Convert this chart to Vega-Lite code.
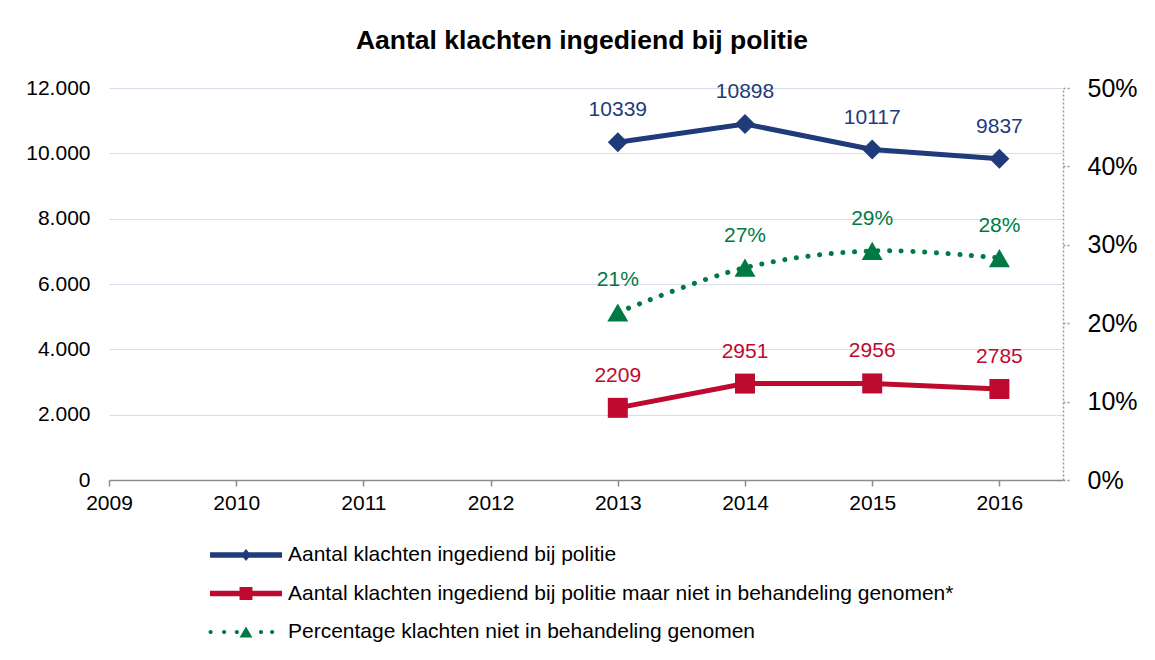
{
  "$schema": "https://vega.github.io/schema/vega-lite/v6.json",
  "width": 954,
  "height": 392,
  "autosize": "none",
  "padding": {"left": 109, "top": 88, "right": 92, "bottom": 180},
  "background": "white",
  "title": {
    "text": "Aantal klachten ingediend bij politie",
    "fontSize": 26.5,
    "fontWeight": "bold",
    "font": "Liberation Sans",
    "color": "#000000",
    "anchor": "middle",
    "frame": "group",
    "baseline": "alphabetic",
    "offset": 1,
    "dx": -4
  },
  "data": {
    "values": [
      {"series": "Aantal klachten ingediend bij politie", "measure": "aantal", "year": 2013, "value": 10339, "label": "10339"},
      {"series": "Aantal klachten ingediend bij politie", "measure": "aantal", "year": 2014, "value": 10898, "label": "10898"},
      {"series": "Aantal klachten ingediend bij politie", "measure": "aantal", "year": 2015, "value": 10117, "label": "10117"},
      {"series": "Aantal klachten ingediend bij politie", "measure": "aantal", "year": 2016, "value": 9837, "label": "9837"},
      {"series": "Aantal klachten ingediend bij politie maar niet in behandeling genomen*", "measure": "aantal", "year": 2013, "value": 2209, "label": "2209"},
      {"series": "Aantal klachten ingediend bij politie maar niet in behandeling genomen*", "measure": "aantal", "year": 2014, "value": 2951, "label": "2951"},
      {"series": "Aantal klachten ingediend bij politie maar niet in behandeling genomen*", "measure": "aantal", "year": 2015, "value": 2956, "label": "2956"},
      {"series": "Aantal klachten ingediend bij politie maar niet in behandeling genomen*", "measure": "aantal", "year": 2016, "value": 2785, "label": "2785"},
      {"series": "Percentage klachten niet in behandeling genomen", "measure": "percentage", "year": 2013, "value": 0.2137, "label": "21%"},
      {"series": "Percentage klachten niet in behandeling genomen", "measure": "percentage", "year": 2014, "value": 0.2708, "label": "27%"},
      {"series": "Percentage klachten niet in behandeling genomen", "measure": "percentage", "year": 2015, "value": 0.2922, "label": "29%"},
      {"series": "Percentage klachten niet in behandeling genomen", "measure": "percentage", "year": 2016, "value": 0.2831, "label": "28%"}
    ]
  },
  "encoding": {
    "x": {
      "field": "year",
      "type": "quantitative",
      "scale": {"domain": [2009, 2016.5], "nice": false, "zero": false},
      "axis": {
        "title": null,
        "values": [2009, 2010, 2011, 2012, 2013, 2014, 2015, 2016],
        "format": "d",
        "grid": false,
        "domainColor": "#8c8c8c",
        "domainWidth": 1.5,
        "tickColor": "#8c8c8c",
        "tickWidth": 1.5,
        "tickSize": 6,
        "labelFontSize": 21,
        "labelColor": "#000000",
        "labelPadding": 6,
        "labelFlush": false
      }
    }
  },
  "layer": [
    {
      "transform": [{"filter": "datum.measure === 'aantal'"}],
      "encoding": {
        "y": {
          "field": "value",
          "type": "quantitative",
          "scale": {"domain": [0, 12000], "nice": false},
          "axis": {
            "title": null,
            "orient": "left",
            "values": [0, 2000, 4000, 6000, 8000, 10000, 12000],
            "labelExpr": "replace(format(datum.value, ','), ',', '.')",
            "domain": false,
            "ticks": false,
            "grid": true,
            "gridColor": "#d9dce9",
            "gridWidth": 1.2,
            "labelFontSize": 21,
            "labelColor": "#000000",
            "labelPadding": 19
          }
        },
        "color": {
          "field": "series",
          "type": "nominal",
          "scale": {
            "domain": [
              "Aantal klachten ingediend bij politie",
              "Aantal klachten ingediend bij politie maar niet in behandeling genomen*",
              "Percentage klachten niet in behandeling genomen"
            ],
            "range": ["#1f3b7a", "#be0a2f", "#007a45"]
          },
          "legend": {
            "title": null,
            "orient": "none",
            "legendX": 122,
            "legendY": 452,
            "direction": "vertical",
            "symbolSize": 900,
            "symbolStrokeWidth": 0,
            "labelOffset": 27,
            "labelFontSize": 21,
            "labelColor": "#000000",
            "labelLimit": 0,
            "rowPadding": 13.5,
            "encode": {
              "symbols": {
                "update": {
                  "shape": {"signal": "datum.value === 'Aantal klachten ingediend bij politie' ? 'M-2.4,-0.18L2.4,-0.18L2.4,0.18L-2.4,0.18Z M0,-0.4L0.33,0L0,0.4L-0.33,0Z' : datum.value === 'Percentage klachten niet in behandeling genomen' ? 'M-2.5,0a0.14,0.14 0 1,0 0.28,0a0.14,0.14 0 1,0 -0.28,0Z M-1.6,0a0.14,0.14 0 1,0 0.28,0a0.14,0.14 0 1,0 -0.28,0Z M-0.75,0a0.14,0.14 0 1,0 0.28,0a0.14,0.14 0 1,0 -0.28,0Z M0,-0.37L0.43,0.37L-0.43,0.37Z M0.86,0a0.14,0.14 0 1,0 0.28,0a0.14,0.14 0 1,0 -0.28,0Z M1.6,0a0.14,0.14 0 1,0 0.28,0a0.14,0.14 0 1,0 -0.28,0Z' : 'M-2.4,-0.18L2.4,-0.18L2.4,0.18L-2.4,0.18Z M-0.43,-0.43L0.43,-0.43L0.43,0.43L-0.43,0.43Z'"},
                  "fill": {"scale": "color", "field": "value"},
                  "stroke": {"value": "transparent"},
                  "strokeWidth": {"value": 0},
                  "opacity": {"value": 1},
                  "fillOpacity": {"value": 1}
                }
              }
            }
          }
        }
      },
      "layer": [
        {"mark": {"type": "line", "strokeWidth": 5}},
        {
          "mark": {"type": "point", "filled": true, "size": 400, "opacity": 1, "strokeWidth": 0},
          "encoding": {
            "shape": {
              "field": "series",
              "type": "nominal",
              "scale": {
                "domain": [
                  "Aantal klachten ingediend bij politie",
                  "Aantal klachten ingediend bij politie maar niet in behandeling genomen*"
                ],
                "range": ["diamond", "square"]
              },
              "legend": null
            }
          }
        },
        {
          "mark": {"type": "text", "dy": -32, "fontSize": 21, "baseline": "middle", "align": "center"},
          "encoding": {"text": {"field": "label"}}
        }
      ]
    },
    {
      "transform": [{"filter": "datum.measure === 'percentage'"}],
      "encoding": {
        "y": {
          "field": "value",
          "type": "quantitative",
          "scale": {"domain": [0, 0.5], "nice": false},
          "axis": {
            "title": null,
            "orient": "right",
            "values": [0, 0.1, 0.2, 0.3, 0.4, 0.5],
            "format": ".0%",
            "grid": false,
            "domainColor": "#999999",
            "domainDash": [2, 2],
            "domainWidth": 1.5,
            "tickColor": "#999999",
            "tickDash": [2, 2],
            "tickWidth": 1.5,
            "tickSize": 8,
            "labelFontSize": 25,
            "labelColor": "#000000",
            "labelPadding": 16
          }
        },
        "color": {"field": "series", "type": "nominal"}
      },
      "layer": [
        {"mark": {"type": "line", "strokeWidth": 5, "strokeCap": "round", "strokeDash": [0.1, 11.6], "interpolate": "catmull-rom"}},
        {"mark": {"type": "point", "filled": true, "shape": "triangle-up", "size": 440, "opacity": 1, "strokeWidth": 0}},
        {
          "mark": {"type": "text", "dy": -32, "fontSize": 21, "baseline": "middle", "align": "center"},
          "encoding": {"text": {"field": "label"}}
        }
      ]
    }
  ],
  "resolve": {"scale": {"y": "independent"}},
  "config": {
    "font": "Liberation Sans",
    "view": {"stroke": null}
  }
}
